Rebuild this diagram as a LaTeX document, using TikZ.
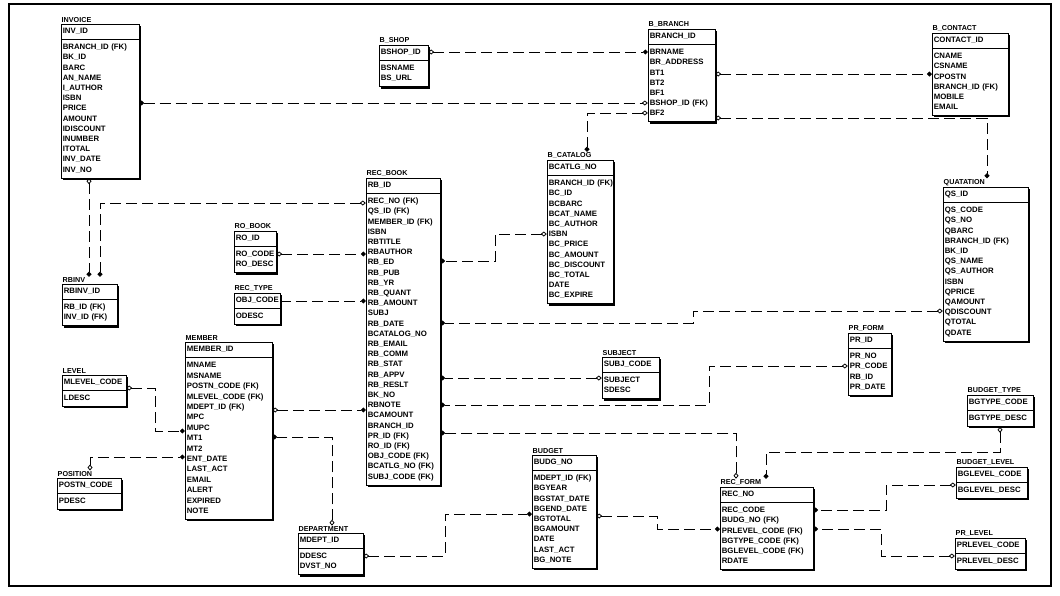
\documentclass[tikz,border=0pt]{standalone}
\usepackage{fontspec}
\setmainfont{Liberation Sans}
\usetikzlibrary{arrows.meta,fit,backgrounds}
\tikzset{
  etitle/.style={anchor=south west, inner xsep=0.5pt, inner ysep=1pt, font=\fontsize{7.2}{8}\selectfont\bfseries},
  ebox/.style={draw, fill=white, line width=1pt, anchor=north west, inner xsep=1.8pt, inner ysep=2.8pt, outer sep=0pt, align=left, font=\fontsize{7.8}{10.2}\selectfont\bfseries},
  rel/.style={dash pattern=on 11pt off 5pt, line width=0.9pt},
  od/.tip={Diamond[open,length=6pt,width=5pt,line width=0.8pt]},
  fc/.tip={Circle[length=4.8pt]},
}
\newcommand\ent[8]{%
  \pgfmathsetmacro\entw{#4-3.6}%
  \node[etitle] (#1-t) at (#2,#3) {#6};
  \node[ebox, text width=\entw pt] (#1-k) at (#2,#3) {\begin{tabular}{@{}l@{}}#7\end{tabular}};
  \node[ebox, text width=\entw pt, font=\fontsize{7.8}{#5}\selectfont\bfseries] (#1-a) at (#1-k.south west) {\begin{tabular}{@{}l@{}}#8\end{tabular}};
  \node[fit=(#1-k)(#1-a), inner sep=0pt] (#1) {};
  \begin{pgfonlayer}{background}
  \fill ([shift={(1.8,1.8)}]#1-k.north west) rectangle ([shift={(1.8,1.8)}]#1-a.south east);
  \end{pgfonlayer}
}
\begin{document}
\begin{tikzpicture}[x=1pt,y=-1pt]
\useasboundingbox (0,0) rectangle (1060,595);
\draw[line width=1.3pt] (9,4) rectangle (1051,586);

\ent{INV}{61}{24}{78}{10.2}{INVOICE}{INV\_ID}{BRANCH\_ID (FK)\\BK\_ID\\BARC\\AN\_NAME\\I\_AUTHOR\\ISBN\\PRICE\\AMOUNT\\IDISCOUNT\\INUMBER\\ITOTAL\\INV\_DATE\\INV\_NO}
\ent{BSH}{379}{45}{49}{10.2}{B\_SHOP}{BSHOP\_ID}{BSNAME\\BS\_URL}
\ent{BBR}{648}{29}{67}{10.2}{B\_BRANCH}{BRANCH\_ID}{BRNAME\\BR\_ADDRESS\\BT1\\BT2\\BF1\\BSHOP\_ID (FK)\\BF2}
\ent{BCON}{932}{33}{76}{10.2}{B\_CONTACT}{CONTACT\_ID}{CNAME\\CSNAME\\CPOSTN\\BRANCH\_ID (FK)\\MOBILE\\EMAIL}
\ent{BCAT}{547}{160}{66}{10.2}{B\_CATALOG}{BCATLG\_NO}{BRANCH\_ID (FK)\\BC\_ID\\BCBARC\\BCAT\_NAME\\BC\_AUTHOR\\ISBN\\BC\_PRICE\\BC\_AMOUNT\\BC\_DISCOUNT\\BC\_TOTAL\\DATE\\BC\_EXPIRE}
\ent{RBK}{366}{178}{74}{10.2}{REC\_BOOK}{RB\_ID}{REC\_NO (FK)\\QS\_ID (FK)\\MEMBER\_ID (FK)\\ISBN\\RBTITLE\\RBAUTHOR\\RB\_ED\\RB\_PUB\\RB\_YR\\RB\_QUANT\\RB\_AMOUNT\\SUBJ\\RB\_DATE\\BCATALOG\_NO\\RB\_EMAIL\\RB\_COMM\\RB\_STAT\\RB\_APPV\\RB\_RESLT\\BK\_NO\\RBNOTE\\BCAMOUNT\\BRANCH\_ID\\PR\_ID (FK)\\RO\_ID (FK)\\OBJ\_CODE (FK)\\BCATLG\_NO (FK)\\SUBJ\_CODE (FK)}
\ent{ROB}{234}{231}{42}{10.2}{RO\_BOOK}{RO\_ID}{RO\_CODE\\RO\_DESC}
\ent{RTY}{234}{293}{46}{10.2}{REC\_TYPE}{OBJ\_CODE}{ODESC}
\ent{RBI}{62}{284}{55}{10.2}{RBINV}{RBINV\_ID}{RB\_ID (FK)\\INV\_ID (FK)}
\ent{MEM}{185}{342}{87}{10.4}{MEMBER}{MEMBER\_ID}{MNAME\\MSNAME\\POSTN\_CODE (FK)\\MLEVEL\_CODE (FK)\\MDEPT\_ID (FK)\\MPC\\MUPC\\MT1\\MT2\\ENT\_DATE\\LAST\_ACT\\EMAIL\\ALERT\\EXPIRED\\NOTE}
\ent{LEV}{62}{375}{64}{10.2}{LEVEL}{MLEVEL\_CODE}{LDESC}
\ent{POS}{57}{478}{64}{10.2}{POSITION}{POSTN\_CODE}{PDESC}
\ent{DEP}{298}{533}{65}{10.2}{DEPARTMENT}{MDEPT\_ID}{DDESC\\DVST\_NO}
\ent{SUB}{602}{357}{57}{10.2}{SUBJECT}{SUBJ\_CODE}{SUBJECT\\SDESC}
\ent{PRF}{848}{333}{43}{10.2}{PR\_FORM}{PR\_ID}{PR\_NO\\PR\_CODE\\RB\_ID\\PR\_DATE}
\ent{QUA}{943}{187}{85}{10.2}{QUATATION}{QS\_ID}{QS\_CODE\\QS\_NO\\QBARC\\BRANCH\_ID (FK)\\BK\_ID\\QS\_NAME\\QS\_AUTHOR\\ISBN\\QPRICE\\QAMOUNT\\QDISCOUNT\\QTOTAL\\QDATE}
\ent{BTY}{967}{395}{66}{10.2}{BUDGET\_TYPE}{BGTYPE\_CODE}{BGTYPE\_DESC}
\ent{BLV}{956}{467}{71}{10.2}{BUDGET\_LEVEL}{BGLEVEL\_CODE}{BGLEVEL\_DESC}
\ent{PRL}{955}{538}{70}{10.2}{PR\_LEVEL}{PRLEVEL\_CODE}{PRLEVEL\_DESC}
\ent{BUD}{532}{455}{64}{10.2}{BUDGET}{BUDG\_NO}{MDEPT\_ID (FK)\\BGYEAR\\BGSTAT\_DATE\\BGEND\_DATE\\BGTOTAL\\BGAMOUNT\\DATE\\LAST\_ACT\\BG\_NOTE}
\ent{RFM}{720}{487}{93}{10.2}{REC\_FORM}{REC\_NO}{REC\_CODE\\BUDG\_NO (FK)\\PRLEVEL\_CODE (FK)\\BGTYPE\_CODE (FK)\\BGLEVEL\_CODE (FK)\\RDATE}

% connectors
\draw[rel, fc-od] (INV.east |- 0,103) -- (BBR.west |- 0,103);
\draw[rel, od-fc] (BSH.east |- 0,52) -- (BBR.west |- 0,52);
\draw[rel, od-fc] (BBR.east |- 0,74) -- (BCON.west |- 0,74);
\draw[rel, od-fc] (BBR.east |- 0,118) -| (QUA-t.north -| 987,0);
\draw[rel, od-fc] (BBR.west |- 0,113) -| (BCAT-t.north -| 587,0);
\draw[rel, od-fc] (BCAT.west |- 0,234) -| (495,261) -- (RBK.east |- 0,261);
\draw[rel, od-fc] (QUA.west |- 0,311) -| (693,323) -- (RBK.east |- 0,323);
\draw[rel, od-fc] (SUB.west |- 0,378) -- (RBK.east |- 0,378);
\draw[rel, od-fc] (PRF.west |- 0,366) -| (709,405) -- (RBK.east |- 0,405);
\draw[rel, od-fc] (RFM-t.north -| 736,0) |- (RBK.east |- 0,433);
\draw[rel, od-fc] (BTY.south) |- (766,452) -- (RFM-t.north -| 766,0);
\draw[rel, od-fc] (BLV.west |- 0,485) -| (886,510) -- (RFM.east |- 0,510);
\draw[rel, od-fc] (PRL.west |- 0,556) -| (881,529) -- (RFM.east |- 0,529);
\draw[rel, od-fc] (BUD.east |- 0,516) -| (657,529) -- (RFM.west |- 0,529);
\draw[rel, od-fc] (DEP.east |- 0,556) -| (445,514) -- (BUD.west |- 0,514);
\draw[rel, od-fc] (DEP-t.north -| 332,0) |- (MEM.east |- 0,437);
\draw[rel, od-fc] (MEM.east |- 0,410) -- (RBK.west |- 0,410);
\draw[rel, od-fc] (LEV.east |- 0,388) -| (155,431) -- (MEM.west |- 0,431);
\draw[rel, od-fc] (POS-t.north -| 90,0) |- (MEM.west |- 0,457);
\draw[rel, od-fc] (INV.south -| 89,0) -- (RBI-t.north -| 89,0);
\draw[rel, od-fc] (RBK.west |- 0,203) -| (RBI-t.north -| 100,0);
\draw[rel, od-fc] (ROB.east |- 0,254) -- (RBK.west |- 0,254);
\draw[rel, -fc] (RTY.east |- 0,301) -- (RBK.west |- 0,301);
\end{tikzpicture}
\end{document}
